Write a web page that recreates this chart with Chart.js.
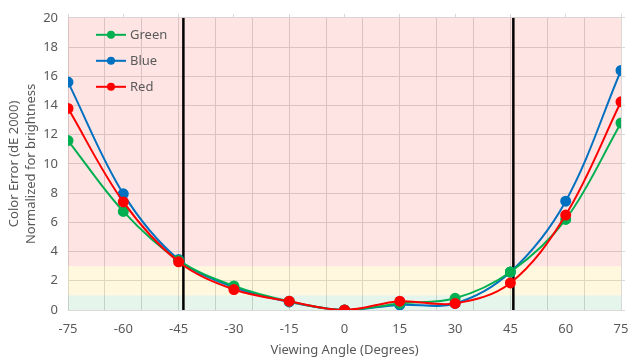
<!DOCTYPE html>
<html>
<head>
<meta charset="utf-8">
<script src="https://cdn.jsdelivr.net/npm/chart.js@4"></script>
<style>
  html, body { margin: 0; padding: 0; background: #fff; }
  #wrap { width: 644px; height: 360px; }
</style>
</head>
<body>
<div id="wrap"><canvas id="errChart" width="644" height="360"></canvas></div>
<script>
// viewing angle samples (degrees)
const angles = [-75, -60, -45, -30, -15, 0, 15, 30, 45, 60, 75];
// color error per channel
const greenErr = [11.6, 6.75, 3.4, 1.65, 0.6, 0, 0.45, 0.8, 2.6, 6.2, 12.8];
const blueErr  = [15.6, 7.95, 3.45, 1.55, 0.55, 0, 0.35, 0.45, 2.6, 7.45, 16.4];
const redErr   = [13.8, 7.4, 3.3, 1.4, 0.6, 0, 0.6, 0.45, 1.85, 6.5, 14.25];
// vertical marker lines (degrees)
const markers = [-43.7, 45.8];
// background bands [from, to]
const bandValues = [[3, 20], [1, 3], [0, 1]];
const bandColors = ['rgba(255,0,0,0.105)', 'rgba(255,200,0,0.13)', 'rgba(0,160,70,0.10)'];
const xTicks = [-75, -60, -45, -30, -15, 0, 15, 30, 45, 60, 75];
const yTicks = [0, 2, 4, 6, 8, 10, 12, 14, 16, 18, 20];

const textColor = '#595959';
const gridColor = '#d9d9d9';
const font = { family: 'Noto Sans', size: 13 };

const pts = vals => angles.map((a, i) => ({ x: a, y: vals[i] }));

const series = [
    { label: 'Green', data: greenErr, color: '#00b050', order: 2 },
    { label: 'Blue', data: blueErr, color: '#0070c0', order: 3 },
    { label: 'Red', data: redErr, color: '#ff0000', order: 1 }
];

const datasets = series.map(s => ({
    label: s.label,
    data: pts(s.data),
    borderColor: s.color,
    backgroundColor: s.color,
    pointBackgroundColor: s.color,
    pointBorderColor: s.color,
    pointRadius: 4.5,
    borderWidth: 2,
    tension: 0.35,
    showLine: true,
    order: s.order
}));

markers.forEach(m => {
    datasets.push({
        label: 'marker',
        data: [{ x: m, y: 0 }, { x: m, y: 20 }],
        borderColor: '#000',
        borderWidth: 2.5,
        pointRadius: 0,
        showLine: true,
        order: 10
    });
});

// bands drawn over the grid, under the lines
const bandsPlugin = {
    id: 'bands',
    beforeDatasetsDraw(chart) {
        const { ctx, chartArea, scales } = chart;
        ctx.save();
        bandValues.forEach((b, i) => {
            const yTop = scales.y.getPixelForValue(b[1]);
            const yBot = scales.y.getPixelForValue(b[0]);
            ctx.fillStyle = bandColors[i];
            ctx.fillRect(chartArea.left, yTop, chartArea.right - chartArea.left, yBot - yTop);
        });
        ctx.restore();
    }
};

// legend sitting inside the plot, top left
const legendPlugin = {
    id: 'innerLegend',
    afterDraw(chart) {
        const { ctx, chartArea } = chart;
        ctx.save();
        series.forEach((s, i) => {
            const y = chartArea.top + 17 + i * 26;
            const x0 = chartArea.left + 28;
            ctx.strokeStyle = s.color;
            ctx.lineWidth = 2;
            ctx.beginPath();
            ctx.moveTo(x0, y);
            ctx.lineTo(x0 + 30, y);
            ctx.stroke();
            ctx.fillStyle = s.color;
            ctx.beginPath();
            ctx.arc(x0 + 15, y, 4, 0, Math.PI * 2);
            ctx.fill();
            ctx.fillStyle = textColor;
            ctx.font = '13px "Noto Sans"';
            ctx.textBaseline = 'middle';
            ctx.fillText(s.label, x0 + 34, y);
        });
        ctx.restore();
    }
};

new Chart(document.getElementById('errChart'), {
    type: 'scatter',
    data: { datasets: datasets },
    plugins: [bandsPlugin, legendPlugin],
    options: {
        responsive: false,
        animation: false,
        layout: { padding: 0 },
        plugins: {
            legend: { display: false },
            tooltip: { enabled: false }
        },
        scales: {
            x: {
                type: 'linear',
                position: 'bottom',
                min: -75,
                max: 75,
                afterBuildTicks(axis) {
                    const t = [];
                    for (let v = -75; v <= 75; v += 5) t.push({ value: v });
                    axis.ticks = t;
                },
                afterFit(axis) { axis.height = 50; },
                ticks: {
                    color: textColor,
                    font: font,
                    autoSkip: false,
                    maxRotation: 0,
                    padding: 11,
                    callback: v => (xTicks.includes(v) ? String(v) : '')
                },
                grid: {
                    drawTicks: false,
                    color: c => ((c.tick && (c.tick.value + 75) % 10 === 0) ? gridColor : 'rgba(0,0,0,0)')
                },
                border: { color: gridColor },
                title: {
                    display: true,
                    text: 'Viewing Angle (Degrees)',
                    color: textColor,
                    font: { family: 'Noto Sans', size: 13 },
                    padding: { top: 0, bottom: 2 }
                }
            },
            xTop: {
                type: 'linear',
                position: 'top',
                min: -75,
                max: 75,
                afterBuildTicks(axis) { axis.ticks = xTicks.map(v => ({ value: v })); },
                afterFit(axis) { axis.height = 16; },
                ticks: { display: false },
                grid: { drawOnChartArea: false, tickLength: 4, color: gridColor },
                border: { color: gridColor }
            },
            y: {
                type: 'linear',
                position: 'left',
                min: 0,
                max: 20,
                afterBuildTicks(axis) { axis.ticks = yTicks.map(v => ({ value: v })); },
                afterFit(axis) { axis.width = 68; },
                ticks: { color: textColor, font: font, padding: 10 },
                grid: { drawTicks: false, color: gridColor },
                border: { color: gridColor },
                title: {
                    display: true,
                    text: ['Color Error (dE 2000)', 'Normalized for brightness'],
                    color: textColor,
                    font: { family: 'Noto Sans', size: 13, lineHeight: 1.3 },
                    padding: { top: 6, bottom: 0 }
                }
            },
            yRight: {
                type: 'linear',
                position: 'right',
                min: 0,
                max: 20,
                afterBuildTicks(axis) { axis.ticks = yTicks.map(v => ({ value: v })); },
                afterFit(axis) { axis.width = 23; },
                ticks: { display: false },
                grid: { drawOnChartArea: false, tickLength: 4, color: gridColor },
                border: { color: gridColor }
            }
        }
    }
});
</script>
</body>
</html>
